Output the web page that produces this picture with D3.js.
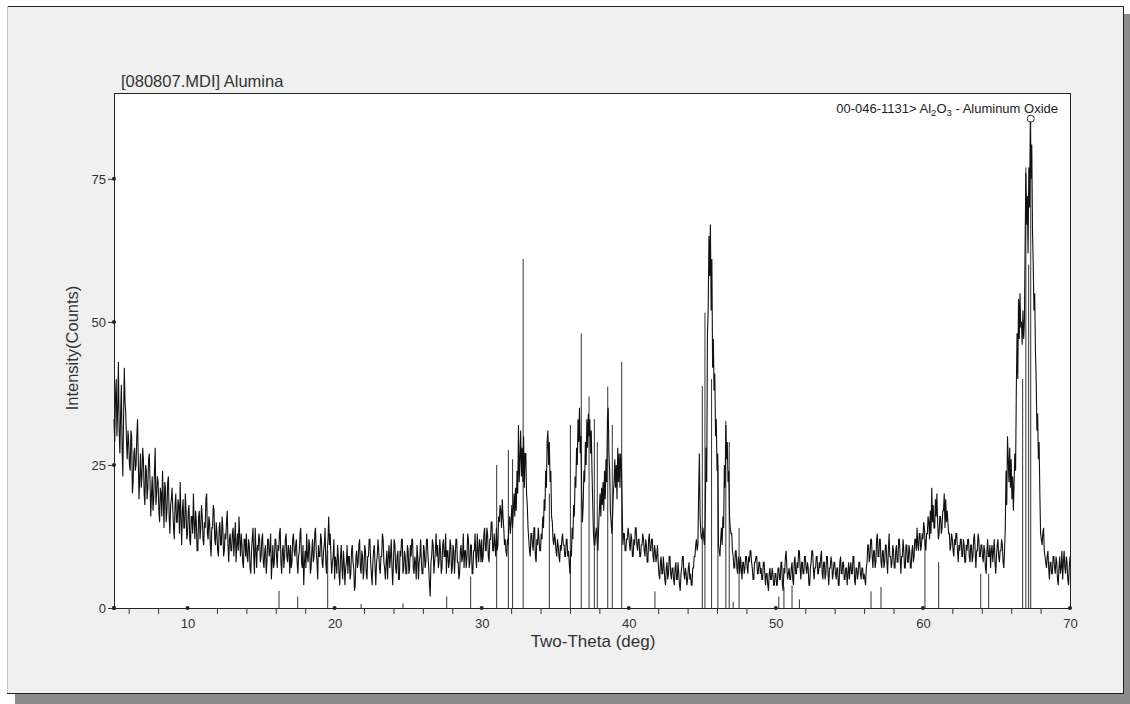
<!DOCTYPE html>
<html>
<head>
<meta charset="utf-8">
<script src="https://cdn.jsdelivr.net/npm/d3@7"></script>
<style>
  body { margin: 0; background: #fff; }
  svg { display: block; font-family: "Liberation Sans", Arial, sans-serif; }
  .tick text { fill: #333; font-size: 13px; }
</style>
</head>
<body>
<svg width="1130" height="704"></svg>
<script>
// scan: 2-theta start and step, counts (one row = 1 degree)
const scanStart = 5;
const scanStep = 0.05;
const counts = [
  33,29,37,40,30,35,43,31,27,34,39,28,23,33,42,36,34,29,26,31,
  29,25,24,31,30,20,22,27,28,24,25,30,33,26,19,23,27,21,23,28,
  26,20,18,25,24,19,21,26,27,22,16,20,23,17,19,24,28,18,20,23,
  22,17,15,21,20,16,24,19,14,22,21,15,17,22,23,16,13,18,19,21,
  17,14,12,18,20,15,15,19,18,13,22,16,11,17,19,14,14,20,17,12,
  13,17,18,12,11,16,16,13,20,15,12,17,15,10,10,16,17,12,14,18,
  16,12,11,15,14,19,20,13,12,16,15,11,9,14,14,18,17,12,11,15,
  13,10,9,14,15,11,11,16,14,9,10,13,12,15,17,11,8,12,13,10,
  10,13,14,9,12,15,8,11,13,10,16,12,9,13,11,8,7,12,12,9,
  13,9,8,12,11,7,6,10,12,14,9,6,14,10,7,11,10,13,12,8,
  9,12,13,8,7,10,11,6,8,12,12,9,10,13,5,8,11,7,8,12,
  12,9,7,11,10,13,14,8,6,10,11,7,9,12,13,9,8,11,10,6,
  11,7,8,12,13,10,9,11,12,8,6,9,10,13,14,8,7,11,4,8,
  10,7,13,9,8,12,11,6,7,10,12,8,9,13,14,10,8,5,11,9,
  9,13,12,8,7,10,11,14,8,6,10,12,16,11,13,9,6,8,9,12,
  5,9,8,6,11,9,6,4,9,11,7,5,10,8,4,7,8,11,6,9,
  9,5,6,10,11,8,7,3,4,9,10,7,8,11,12,7,6,10,9,5,
  7,11,10,6,5,9,9,12,12,8,6,4,8,10,11,7,4,8,9,12,
  10,7,6,9,9,13,12,8,7,5,8,10,5,9,11,7,9,12,7,4,
  8,12,11,7,6,9,10,5,5,10,9,12,12,6,7,10,9,6,6,11,
  10,6,7,11,9,12,12,7,6,9,8,5,11,9,5,8,9,12,8,6,
  6,11,10,7,8,12,12,9,7,4,2,8,9,12,11,6,8,10,13,9,
  11,7,8,12,10,6,7,11,12,9,9,13,6,10,10,7,8,12,11,6,
  7,11,10,6,9,12,12,8,8,5,6,10,11,8,9,13,7,10,10,7,
  9,13,12,7,8,11,11,6,6,10,10,13,9,7,13,10,8,12,11,8,
  12,8,9,13,14,10,10,14,13,9,8,12,12,15,15,10,10,13,11,9,
  14,10,11,16,15,18,17,14,19,16,14,11,12,10,9,12,11,15,16,13,
  15,18,14,17,20,16,21,17,24,20,32,22,26,31,23,28,22,30,21,27,
  27,20,18,14,12,10,9,13,13,11,10,14,14,9,8,12,11,14,12,10,
  10,13,12,16,14,19,17,24,21,29,31,25,29,22,24,16,15,12,11,13,
  12,10,9,12,11,9,8,11,10,12,13,11,11,9,9,12,12,9,10,8,
  6,10,9,14,12,18,16,23,21,28,25,33,29,35,27,30,20,15,18,24,
  22,29,25,33,28,34,30,33,27,31,24,18,13,11,11,13,14,12,10,14,
  17,20,16,21,18,22,17,24,19,26,22,33,35,27,24,17,15,13,16,20,
  22,26,21,25,19,28,22,27,21,27,25,18,11,13,13,10,10,12,12,14,
  13,11,10,13,12,9,9,12,11,14,14,11,10,12,12,9,9,11,11,13,
  12,10,9,12,11,8,8,12,13,10,10,12,12,9,8,11,10,8,9,11,
  8,6,5,8,9,6,6,9,7,5,4,7,8,5,6,9,9,6,5,7,
  7,5,4,7,8,5,5,8,6,4,3,6,7,9,9,6,5,7,6,4,
  5,7,8,5,6,4,4,7,7,9,9,11,12,10,11,20,27,16,13,12,
  13,14,12,11,16,28,22,48,52,65,58,67,52,61,42,47,38,41,30,33,
  24,27,11,10,9,12,14,11,16,14,25,21,32,26,29,22,24,16,14,13,
  13,10,9,7,7,10,10,7,6,9,8,6,9,7,5,8,8,6,7,9,
  9,7,6,9,8,10,10,8,7,5,5,8,8,9,9,6,6,8,8,6,
  7,5,5,8,8,6,4,6,6,4,3,6,7,5,5,7,6,4,4,6,
  6,4,4,7,7,5,5,8,8,4,3,7,6,9,10,7,5,6,7,5,
  5,7,8,5,4,8,9,6,6,8,7,10,10,7,5,8,8,6,6,9,
  9,7,6,8,7,4,4,7,8,10,10,7,5,7,7,9,9,6,6,8,
  7,9,10,6,5,8,8,5,6,9,9,6,4,7,7,9,8,5,6,8,
  8,6,5,7,7,4,4,8,9,6,6,8,8,5,5,7,7,4,6,8,
  5,7,8,6,6,9,9,5,4,7,7,5,6,8,8,6,5,7,7,5,
  6,5,4,7,8,11,11,8,9,12,12,9,7,10,10,7,8,12,13,9,
  9,12,12,8,7,10,10,7,8,11,11,8,6,10,13,9,9,7,8,11,
  10,7,7,10,11,8,8,12,12,9,6,9,9,12,10,7,7,11,11,8,
  8,11,10,7,7,10,11,8,9,12,12,10,14,11,10,13,13,10,11,13,
  12,15,14,11,10,13,13,16,15,12,17,13,21,15,18,14,14,19,16,20,
  15,12,13,16,16,13,14,17,17,20,14,19,15,17,15,13,13,10,11,13,
  12,10,9,12,11,13,13,10,8,11,10,12,12,9,9,12,11,8,8,11,
  10,12,12,9,8,11,11,8,9,12,13,10,7,10,10,13,12,9,9,11,
  11,9,8,11,10,7,6,10,12,9,9,11,7,10,11,8,10,12,8,6,
  9,11,12,9,8,10,10,12,11,8,7,10,14,24,18,30,26,22,28,21,
  26,19,23,17,22,27,24,38,48,40,54,47,55,49,50,46,52,47,50,64,
  76,67,72,62,77,70,85,75,81,66,60,52,55,45,40,31,34,26,29,20,
  13,12,11,13,14,10,9,8,7,9,10,7,5,8,8,6,6,9,9,7,
  6,9,8,5,4,7,9,6,7,10,5,8,10,7,6,9,8,5,4,7,
  9
];

// reference pattern 00-046-1131 (sticks)
const stickPos = [16.22, 17.49, 19.53, 21.8, 24.65, 27.62, 29.25, 31.02, 31.81, 32.1,
  32.82, 34.6, 36.03, 36.77, 37.3, 37.66, 37.86, 38.57, 38.88, 39.52,
  41.78, 45.0, 45.18, 45.63, 46.06, 46.6, 46.83, 47.1, 47.5, 50.2,
  50.55, 51.1, 51.6, 56.47, 57.15, 60.14, 61.07, 63.93, 64.47, 66.78,
  67.0, 67.19, 67.33];
const stickInt = [3, 2, 10, 0.7, 0.8, 2, 5.5, 25, 27.6, 26,
  61, 20, 32, 48, 37, 33, 29, 38.7, 32, 43,
  2.9, 38.8, 51.6, 40, 25, 32.7, 29, 1.1, 14, 2,
  3.7, 3.9, 1.5, 2.9, 3.7, 12, 8, 6, 6, 40,
  77, 60, 85];

const xMinor = [6, 8, 12, 14, 16, 18, 22, 24, 26, 28, 32, 34, 36, 38, 42, 44, 46, 48,
  52, 54, 56, 58, 62, 64, 66, 68];
const xMajor = [10, 20, 30, 40, 50, 60, 70];
const yTicks = [0, 25, 50, 75];

const svg = d3.select('svg');
const box = {left: 114, right: 1070, top: 93, bottom: 608};

// panel with drop shadow
svg.append('rect').attr('x', 15).attr('y', 14).attr('width', 1115).attr('height', 690).attr('fill', '#8c8c8c');
svg.append('rect').attr('x', 7).attr('y', 6).attr('width', 1116).attr('height', 687).attr('fill', '#f0f0f0');
svg.append('line').attr('x1', 7).attr('x2', 1123).attr('y1', 6.5).attr('y2', 6.5).attr('stroke', '#222');
svg.append('line').attr('x1', 7.5).attr('x2', 7.5).attr('y1', 6).attr('y2', 693).attr('stroke', '#c4c4c4');
svg.append('line').attr('x1', 1123.5).attr('x2', 1123.5).attr('y1', 6).attr('y2', 694).attr('stroke', '#222');
svg.append('line').attr('x1', 7).attr('x2', 1124).attr('y1', 693.5).attr('y2', 693.5).attr('stroke', '#222');

const x = d3.scaleLinear().domain([5, 70]).range([box.left, box.right]);
const y = d3.scaleLinear().domain([0, 90]).range([box.bottom, box.top]);

svg.append('rect')
  .attr('x', box.left + 0.5).attr('y', box.top + 0.5)
  .attr('width', box.right - box.left).attr('height', box.bottom - box.top)
  .attr('fill', '#fff').attr('stroke', '#222');

// sticks
svg.append('g').selectAll('line').data(stickPos).join('line')
  .attr('x1', d => x(d)).attr('x2', d => x(d))
  .attr('y1', y(0)).attr('y2', (d, i) => y(stickInt[i]))
  .attr('stroke', '#333').attr('stroke-width', 1);

const peakIdx = stickInt.indexOf(d3.max(stickInt));
svg.append('circle')
  .attr('cx', x(stickPos[peakIdx])).attr('cy', y(stickInt[peakIdx]) - 3)
  .attr('r', 3.5).attr('fill', '#fff').attr('stroke', '#333');

// trace
const line = d3.line()
  .x((d, i) => x(scanStart + i * scanStep))
  .y(d => y(d));
svg.append('path').datum(counts)
  .attr('d', line).attr('fill', 'none')
  .attr('stroke', '#111').attr('stroke-width', 1.1);

// axes
const gx = svg.append('g').attr('transform', `translate(0,${box.bottom})`);
gx.append('g').call(d3.axisBottom(x).tickValues(xMinor).tickSize(6).tickFormat(''))
  .call(g => g.select('.domain').remove());
gx.append('g').call(d3.axisBottom(x).tickValues(xMajor).tickSize(0).tickPadding(11))
  .call(g => g.select('.domain').remove());
gx.selectAll('.tick line').attr('stroke', '#333');
gx.append('g').selectAll('circle').data([5].concat(xMajor)).join('circle')
  .attr('cx', d => x(d)).attr('cy', 0).attr('r', 2).attr('fill', '#222');

const gy = svg.append('g').attr('transform', `translate(${box.left},0)`);
gy.call(d3.axisLeft(y).tickValues(yTicks).tickSize(6).tickPadding(2))
  .call(g => g.select('.domain').remove());
gy.selectAll('.tick line').attr('stroke', '#333');
gy.append('g').selectAll('circle').data(yTicks).join('circle')
  .attr('cx', 0).attr('cy', d => y(d)).attr('r', 2).attr('fill', '#222');

// texts
svg.append('text').attr('x', 121).attr('y', 87)
  .attr('font-size', 16.5).attr('fill', '#333').text('[080807.MDI] Alumina');

svg.append('text')
  .attr('transform', 'translate(78,348) rotate(-90)')
  .attr('text-anchor', 'middle').attr('font-size', 16.5).attr('fill', '#333')
  .text('Intensity(Counts)');

svg.append('text').attr('x', 593).attr('y', 647)
  .attr('text-anchor', 'middle').attr('font-size', 17).attr('fill', '#333')
  .text('Two-Theta (deg)');

const leg = svg.append('text').attr('x', 1058).attr('y', 113)
  .attr('text-anchor', 'end').attr('font-size', 13).attr('fill', '#222');
leg.append('tspan').text('00-046-1131> Al');
leg.append('tspan').attr('font-size', 9.5).attr('dy', 3).text('2');
leg.append('tspan').attr('dy', -3).text('O');
leg.append('tspan').attr('font-size', 9.5).attr('dy', 3).text('3');
leg.append('tspan').attr('dy', -3).text(' - Aluminum Oxide');
</script>
</body>
</html>
